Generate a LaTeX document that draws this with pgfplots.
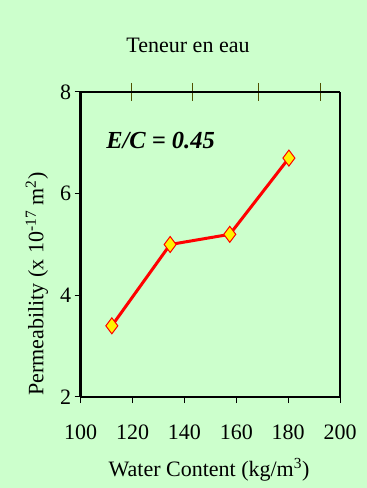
\documentclass[border=0pt]{standalone}
\usepackage{pgfplots}
\pgfplotsset{compat=1.18}
\usepackage{fontspec}
\setmainfont{Liberation Serif}
\definecolor{bg}{RGB}{204,255,204}
\definecolor{olive}{RGB}{80,80,0}
\begin{document}
\begin{tikzpicture}[x=1pt,y=1pt]
\fill[bg] (0,0) rectangle (367,488);
\begin{axis}[
  at={(80.7pt,91pt)}, anchor=south west,
  scale only axis, width=259.3pt, height=305pt,
  xmin=100, xmax=200, ymin=2, ymax=8,
  xtick={100,120,...,200}, ytick={2,4,6,8},
  axis x line*=bottom, axis y line*=left,
  tick align=outside, tick style={black, line width=1pt, major tick length=6pt},
  axis line style={line width=2.5pt, -},
  ticklabel style={font=\fontsize{22}{24}\selectfont},
  /pgf/number format/assume math mode=true,
  xticklabel style={yshift=-18pt},
  clip=false,
]
\addplot[red, line width=3pt, mark=diamond*, mark size=8pt,
  mark options={fill=yellow, draw=red, line width=1pt}]
  coordinates {(112,3.4) (134.5,5.0) (157.5,5.2) (180.3,6.7)};
\node[font=\fontsize{24.5}{26}\selectfont\bfseries\itshape, anchor=west] at (axis cs:108.5,7.05) {E/C = 0.45};
\end{axis}
\begin{axis}[
  at={(80.7pt,91pt)}, anchor=south west,
  scale only axis, width=259.3pt, height=305pt,
  xmin=100, xmax=200, ymin=2, ymax=8,
  axis x line*=top, axis y line*=right,
  xtick={119.4,143.3,168.4,192.3}, xticklabels={},
  ytick=\empty,
  tick align=center, tick style={olive, line width=1pt, major tick length=18pt},
  axis line style={line width=2.5pt, -},
]
\addplot[draw=none] coordinates {(100,2)};
\end{axis}
\node[font=\fontsize{22}{24}\selectfont] at (188,443) {Teneur en eau};
\node[font=\fontsize{22}{24}\selectfont] at (209,18) {Water Content (kg/m\textsuperscript{3})};
\node[font=\fontsize{22}{24}\selectfont, rotate=90] at (37,204) {Permeability (x 10\textsuperscript{-17} m\textsuperscript{2})};
\end{tikzpicture}
\end{document}
